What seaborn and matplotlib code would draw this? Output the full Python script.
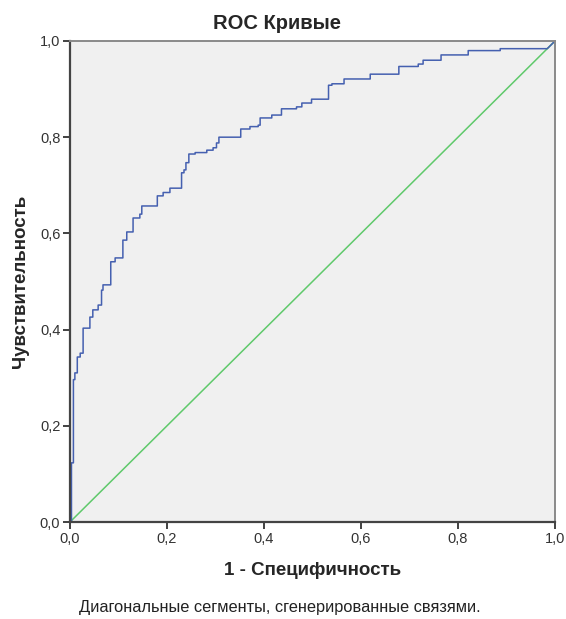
# ROC curve (SPSS style) redrawn with seaborn

import numpy as np
import pandas as pd
import seaborn as sns
import matplotlib.pyplot as plt
import matplotlib
from matplotlib.ticker import FuncFormatter

sns.set_style('white', {'axes.facecolor': '#f0f0f0'})
matplotlib.rcParams['font.family'] = ['Liberation Sans', 'DejaVu Sans']

# curve vertices
fpr = [0.000, 0.003, 0.003, 0.007, 0.007, 0.010, 0.010, 0.015, 0.015, 0.021,
       0.021, 0.027, 0.027, 0.041, 0.041, 0.047, 0.047, 0.058, 0.058, 0.065,
       0.065, 0.068, 0.068, 0.084, 0.084, 0.093, 0.093, 0.109, 0.109, 0.117,
       0.117, 0.130, 0.130, 0.144, 0.144, 0.148, 0.148, 0.180, 0.180, 0.192,
       0.192, 0.206, 0.206, 0.230, 0.230, 0.235, 0.235, 0.239, 0.239, 0.245,
       0.245, 0.258, 0.258, 0.282, 0.282, 0.295, 0.295, 0.302, 0.302, 0.307,
       0.307, 0.352, 0.352, 0.371, 0.371, 0.388, 0.388, 0.392, 0.392, 0.416,
       0.416, 0.436, 0.436, 0.467, 0.467, 0.478, 0.478, 0.498, 0.498, 0.533,
       0.533, 0.540, 0.540, 0.565, 0.565, 0.619, 0.619, 0.678, 0.678, 0.718,
       0.718, 0.728, 0.728, 0.765, 0.765, 0.821, 0.821, 0.887, 0.887, 0.984,
       0.990, 1.000]
tpr = [0.000, 0.000, 0.123, 0.123, 0.296, 0.296, 0.310, 0.310, 0.343, 0.343,
       0.351, 0.351, 0.403, 0.403, 0.426, 0.426, 0.441, 0.441, 0.451, 0.451,
       0.482, 0.482, 0.493, 0.493, 0.541, 0.541, 0.549, 0.549, 0.586, 0.586,
       0.603, 0.603, 0.632, 0.632, 0.640, 0.640, 0.657, 0.657, 0.678, 0.678,
       0.685, 0.685, 0.694, 0.694, 0.726, 0.726, 0.732, 0.732, 0.747, 0.747,
       0.765, 0.765, 0.768, 0.768, 0.773, 0.773, 0.778, 0.778, 0.788, 0.788,
       0.800, 0.800, 0.817, 0.817, 0.822, 0.822, 0.825, 0.825, 0.840, 0.840,
       0.846, 0.846, 0.859, 0.859, 0.863, 0.863, 0.871, 0.871, 0.879, 0.879,
       0.908, 0.908, 0.911, 0.911, 0.921, 0.921, 0.931, 0.931, 0.947, 0.947,
       0.952, 0.952, 0.960, 0.960, 0.971, 0.971, 0.980, 0.980, 0.984, 0.984,
       0.990, 1.000]
diag = [0.0, 1.0]
ticks = [0.0, 0.2, 0.4, 0.6, 0.8, 1.0]

df = pd.DataFrame({'fpr': fpr, 'tpr': tpr})

fig = plt.figure(figsize=(5.66, 6.19), dpi=100)
ax = fig.add_axes([0.1237, 0.1567, 0.8569, 0.7771])

sns.lineplot(x=diag, y=diag, ax=ax, color='#5fc96b', linewidth=1.1, sort=False, estimator=None)
sns.lineplot(data=df, x='fpr', y='tpr', ax=ax, color='#4560b0', linewidth=1.1,
             sort=False, estimator=None)

ax.set_xlim(0, 1)
ax.set_ylim(0, 1)
ax.set_xticks(ticks)
ax.set_yticks(ticks)
fmt = FuncFormatter(lambda v, p: ('%.1f' % v).replace('.', ','))
ax.xaxis.set_major_formatter(fmt)
ax.yaxis.set_major_formatter(fmt)
ax.tick_params(axis='both', direction='out', length=5, width=1.3, color='#333333',
               labelsize=10.5, labelcolor='#333333', pad=2)
ax.tick_params(axis='x', bottom=True)
ax.tick_params(axis='y', left=True)

for s in ['left', 'bottom']:
    ax.spines[s].set_color('#444444')
    ax.spines[s].set_linewidth(1.6)
for s in ['top', 'right']:
    ax.spines[s].set_color('#8a8a8a')
    ax.spines[s].set_linewidth(1.4)

ax.set_xlabel('1 - Специфичность', fontsize=13.5, fontweight='bold', labelpad=12)
ax.set_ylabel('Чувствительность', fontsize=13.5, fontweight='bold', labelpad=8)
fig.text(0.49, 0.962, 'ROC Кривые', ha='center', va='center', fontsize=14.5, fontweight='bold')
fig.text(0.494, 0.019, 'Диагональные сегменты, сгенерированные связями.', ha='center',
         va='center', fontsize=11.8, color='#222222')

plt.savefig('out.png', dpi=100)
